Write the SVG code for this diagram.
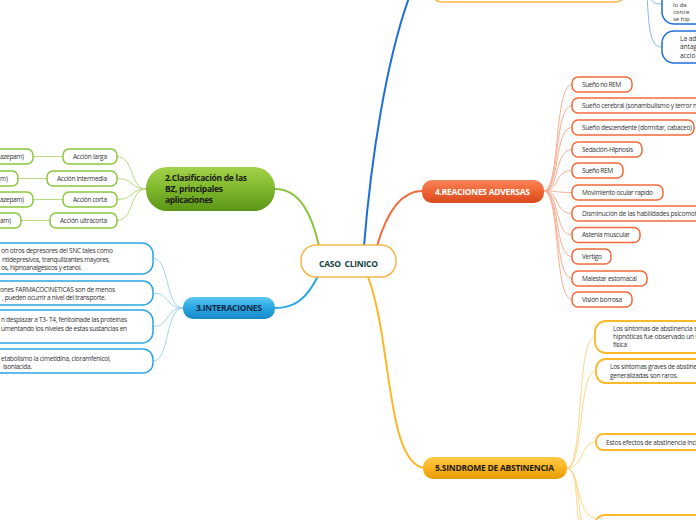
<svg xmlns="http://www.w3.org/2000/svg" width="696" height="520" viewBox="0 0 696 520">
<defs>
<linearGradient id="gGreen" x1="0" y1="0" x2="0" y2="1"><stop offset="0" stop-color="#a3d24a"/><stop offset="0.5" stop-color="#7fb82c"/><stop offset="1" stop-color="#5a9416"/></linearGradient>
<linearGradient id="gBlue" x1="0" y1="0" x2="0" y2="1"><stop offset="0" stop-color="#5cc6f0"/><stop offset="0.5" stop-color="#2aa6e2"/><stop offset="1" stop-color="#1888c8"/></linearGradient>
<linearGradient id="gRed" x1="0" y1="0" x2="0" y2="1"><stop offset="0" stop-color="#f7855a"/><stop offset="0.5" stop-color="#ee6434"/><stop offset="1" stop-color="#d9491f"/></linearGradient>
<linearGradient id="gYel" x1="0" y1="0" x2="0" y2="1"><stop offset="0" stop-color="#fdcb4a"/><stop offset="0.5" stop-color="#f9b420"/><stop offset="1" stop-color="#e49b06"/></linearGradient>
</defs>
<style>
.t{font-family:"Open Sans","Liberation Sans",sans-serif;font-size:6.5px;fill:#333}
.t6{font-family:"Open Sans","Liberation Sans",sans-serif;font-size:6px;fill:#333}
.h{font-family:"Open Sans","Liberation Sans",sans-serif;font-weight:bold;font-size:8.5px}
.cG{fill:#fff;stroke:#8cc63f;stroke-width:1.5}
.cB{fill:#fff;stroke:#2aa6e2;stroke-width:1.5}
.cD{fill:#fff;stroke:#1e6fd9;stroke-width:1.5}
.cR{fill:#fff;stroke:#f26a3a;stroke-width:1.5}
.cY{fill:#fff;stroke:#fbb829;stroke-width:1.8}
.cO{fill:#fff;stroke:#f9b54a;stroke-width:1.5}
.m{fill:none;stroke-width:2}
.s{fill:none;stroke-width:1}
</style>

<g id="connectors">
  <path class="m" stroke="#1e6fd9" d="M364,246 C371,160 386,60 410,-5"/>
  <path class="m" stroke="#8cc63f" d="M319,246 C312,215 300,189 275,189"/>
  <path class="m" stroke="#2aa6e2" d="M318,276 C306,300 294,308 275,308"/>
  <path class="m" stroke="#f26a3a" d="M377,246 C386,215 400,191 422,191"/>
  <path class="m" stroke="#fbb829" d="M368,277 C392,340 386,462 424,468"/>
  <path class="s" stroke="#8ab4ec" d="M647,-5 C649,30 650,47 662,47"/>
  <path class="s" stroke="#8ab4ec" d="M650,-3 C652,3 656,4 662,4"/>
  <g stroke="#f8ae92">
    <path class="s" d="M544,191 C560,191 554,84.5 572,84.5"/>
    <path class="s" d="M544,191 C560,191 554,105.5 572,105.5"/>
    <path class="s" d="M544,191 C560,191 554,127.5 572,127.5"/>
    <path class="s" d="M544,191 C560,191 554,149.5 572,149.5"/>
    <path class="s" d="M544,191 C560,191 554,170.5 572,170.5"/>
    <path class="s" d="M544,191 C560,191 554,192.5 572,192.5"/>
    <path class="s" d="M544,191 C560,191 554,213.5 572,213.5"/>
    <path class="s" d="M544,191 C560,191 554,235 572,235"/>
    <path class="s" d="M544,191 C560,191 554,256.5 572,256.5"/>
    <path class="s" d="M544,191 C560,191 554,278.5 572,278.5"/>
    <path class="s" d="M544,191 C560,191 554,299.5 572,299.5"/>
  </g>
  <g stroke="#b8da80">
    <path class="s" d="M146,189 C130,189 134,156.5 117,156.5"/>
    <path class="s" d="M146,189 C130,189 134,178.5 117,178.5"/>
    <path class="s" d="M146,189 C130,189 134,199.5 117,199.5"/>
    <path class="s" d="M146,189 C130,189 134,220.5 117,220.5"/>
    <path class="s" d="M63,156.5 L33,156.5"/>
    <path class="s" d="M47,178.5 L18,178.5"/>
    <path class="s" d="M63,199.5 L33,199.5"/>
    <path class="s" d="M50,220.5 L21,220.5"/>
  </g>
  <g stroke="#9fd4f2">
    <path class="s" d="M183,308 C165,308 170,258.5 153,258.5"/>
    <path class="s" d="M183,308 C165,308 170,293 153,293"/>
    <path class="s" d="M183,308 C165,308 170,326.5 153,326.5"/>
    <path class="s" d="M183,308 C165,308 170,361 153,361"/>
  </g>
  <g stroke="#fdd68a">
    <path class="s" d="M567,468 C584,468 576,337 595,337"/>
    <path class="s" d="M567,468 C584,468 578,371 596,371"/>
    <path class="s" d="M567,468 C584,468 580,442 596,442"/>
    <path class="s" d="M567,468 C580,470 576,515 595,518"/>
    <path class="s" d="M567,468 C579,470 577,500 582,525"/>
    <path class="s" d="M567,468 C578,470 575,500 579,525"/>
  </g>
</g>

<g id="node-top-orange"><rect class="cO" x="430" y="-30" width="197" height="32" rx="12"/></g>
<g id="node-top-right-1"><rect class="cD" x="662" y="-20" width="100" height="44" rx="12"/>
  <text class="t6" x="673" y="7">lo da</text>
  <text class="t6" x="673" y="14">conce</text>
  <text class="t6" x="673" y="21">se hip</text>
</g>
<g id="node-top-right-2"><rect class="cD" x="662" y="31" width="100" height="32" rx="12"/>
  <text class="t" x="680" y="40.5">La ad</text>
  <text class="t" x="680" y="48.5">antag</text>
  <text class="t" x="680" y="57.5">accio</text>
</g>

<g id="node-center">
  <rect class="cO" x="301" y="245" width="95" height="32" rx="15"/>
  <text class="h" x="348.5" y="267" text-anchor="middle" fill="#173f3f" style="white-space:pre" textLength="59">CASO  CLINICO</text>
</g>

<g id="node-2">
  <rect x="146" y="167" width="129" height="44" rx="21" fill="url(#gGreen)"/>
  <text class="h" x="165" y="181" fill="#1a1a1a" textLength="82">2.Clasificación de las</text>
  <text class="h" x="165" y="192" fill="#1a1a1a" textLength="58">BZ, principales</text>
  <text class="h" x="165" y="203" fill="#1a1a1a" textLength="48">aplicaciones</text>
</g>
<g id="node-2-1"><rect class="cG" x="63" y="149" width="54" height="15" rx="6"/><text class="t" x="107" y="158.8" text-anchor="end" textLength="34">Acción larga</text></g>
<g id="node-2-2"><rect class="cG" x="47" y="171" width="70" height="15" rx="6"/><text class="t" x="107" y="180.8" text-anchor="end" textLength="50">Acción intermedia</text></g>
<g id="node-2-3"><rect class="cG" x="63" y="192" width="54" height="15" rx="6"/><text class="t" x="107" y="201.8" text-anchor="end" textLength="34">Acción corta</text></g>
<g id="node-2-4"><rect class="cG" x="50" y="213" width="67" height="15" rx="6"/><text class="t" x="107" y="222.8" text-anchor="end" textLength="47">Acción ultracorta</text></g>
<g id="node-2-1-1"><rect class="cG" x="-60" y="149" width="93" height="15" rx="6"/><text class="t" x="24" y="158.8" text-anchor="end" textLength="24">azepam)</text></g>
<g id="node-2-2-1"><rect class="cG" x="-60" y="171" width="78" height="15" rx="6"/><text class="t" x="8" y="180.8" text-anchor="end" textLength="8">m)</text></g>
<g id="node-2-3-1"><rect class="cG" x="-60" y="192" width="93" height="15" rx="6"/><text class="t" x="24" y="201.8" text-anchor="end" textLength="24">azepam)</text></g>
<g id="node-2-4-1"><rect class="cG" x="-60" y="213" width="81" height="15" rx="6"/><text class="t" x="11" y="222.8" text-anchor="end" textLength="11">am)</text></g>

<g id="node-3">
  <rect x="183" y="297" width="92" height="22" rx="10" fill="url(#gBlue)"/>
  <text class="h" x="229" y="311" text-anchor="middle" fill="#0e2a48" textLength="66">3.INTERACIONES</text>
</g>
<g id="node-3-1"><rect class="cB" x="-40" y="243" width="193" height="31" rx="11"/>
  <text class="t" x="113" y="253" text-anchor="end" textLength="112">on otros depresores del SNC tales como</text>
  <text class="t" x="110" y="261.6" text-anchor="end" textLength="108">ntidepresivos, tranquilizantes mayores,</text>
  <text class="t" x="82" y="270" text-anchor="end" textLength="81">os, hipnoanalgésicos y etanol.</text>
</g>
<g id="node-3-2"><rect class="cB" x="-40" y="281" width="193" height="24" rx="10"/>
  <text class="t" x="115" y="291.6" text-anchor="end" textLength="115">ones FARMACOCINETICAS son de menos</text>
  <text class="t" x="106" y="300" text-anchor="end" textLength="104">, pueden ocurrir a nivel del transporte.</text>
</g>
<g id="node-3-3"><rect class="cB" x="-40" y="310" width="193" height="33" rx="11"/>
  <text class="t" x="127" y="321.6" text-anchor="end" textLength="126">n desplazar a T3- T4, fenitoinade las proteínas</text>
  <text class="t" x="127" y="330.6" text-anchor="end" textLength="126">umentando los niveles de estas sustancias en</text>
</g>
<g id="node-3-4"><rect class="cB" x="-40" y="349" width="193" height="24" rx="10"/>
  <text class="t" x="111" y="360.6" text-anchor="end" textLength="110">etabolismo la cimetidina, cloramfenicol,</text>
  <text class="t" x="32" y="369" text-anchor="end" textLength="29">isoniacida.</text>
</g>

<g id="node-4">
  <rect x="422" y="180" width="122" height="23" rx="10" fill="url(#gRed)"/>
  <text class="h" x="482.5" y="195" text-anchor="middle" fill="#fff" textLength="95">4.REACIONES ADVERSAS</text>
</g>
<g id="node-4-1"><rect class="cR" x="572" y="77" width="60" height="15" rx="6"/><text class="t" x="582" y="86.8" textLength="39">Sueño no REM</text></g>
<g id="node-4-2"><rect class="cR" x="572" y="98" width="150" height="15" rx="6"/><text class="t" x="582" y="107.8" textLength="115">Sueño cerebral (sonambulismo y terror n</text></g>
<g id="node-4-3"><rect class="cR" x="572" y="120" width="122" height="15" rx="6"/><text class="t" x="582" y="129.8" textLength="110">Sueño descendente (dormitar, cabaceo)</text></g>
<g id="node-4-4"><rect class="cR" x="572" y="142" width="70" height="15" rx="6"/><text class="t" x="582" y="151.8" textLength="51">Sedación-Hipnosis</text></g>
<g id="node-4-5"><rect class="cR" x="572" y="163" width="51" height="15" rx="6"/><text class="t" x="582" y="172.8" textLength="31">Sueño REM</text></g>
<g id="node-4-6"><rect class="cR" x="572" y="185" width="91" height="15" rx="6"/><text class="t" x="582" y="194.8" textLength="71">Movimiento ocular rapido</text></g>
<g id="node-4-7"><rect class="cR" x="572" y="206" width="150" height="15" rx="6"/><text class="t" x="582" y="215.8" textLength="115">Disminución de las habilidades psicomot</text></g>
<g id="node-4-8"><rect class="cR" x="572" y="227.5" width="68" height="15" rx="6"/><text class="t" x="582" y="237.3" textLength="48">Astenia muscular</text></g>
<g id="node-4-9"><rect class="cR" x="572" y="249" width="39" height="15" rx="6"/><text class="t" x="582" y="258.8" textLength="20">Vertigo</text></g>
<g id="node-4-10"><rect class="cR" x="572" y="271" width="75" height="15" rx="6"/><text class="t" x="582" y="280.8" textLength="55">Malestar estomacal</text></g>
<g id="node-4-11"><rect class="cR" x="572" y="292" width="60" height="15" rx="6"/><text class="t" x="582" y="301.8" textLength="40">Visión borrosa</text></g>

<g id="node-5">
  <rect x="423" y="457" width="144" height="22" rx="10" fill="url(#gYel)"/>
  <text class="h" x="494.5" y="471" text-anchor="middle" fill="#1a1a1a" textLength="119">5.SINDROME DE ABSTINENCIA</text>
</g>
<g id="node-5-1"><rect class="cY" x="595" y="321" width="150" height="32" rx="11"/>
  <text class="t" x="613" y="331.3" textLength="84">Los síntomas de abstinencia s</text>
  <text class="t" x="613" y="339.3" textLength="84">hipnóticas fue observado un i</text>
  <text class="t" x="613" y="347.3" textLength="14">física</text>
</g>
<g id="node-5-2"><rect class="cY" x="596" y="359" width="150" height="24" rx="10"/>
  <text class="t" x="610" y="369.3" textLength="87">Los síntomas graves de abstine</text>
  <text class="t" x="610" y="378.3" textLength="68">generalizadas son raros.</text>
</g>
<g id="node-5-3"><rect class="cY" x="596" y="434" width="150" height="16" rx="7"/>
  <text class="t" x="606" y="444.6" textLength="91">Estos efectos de abstinencia incl</text>
</g>
<g id="node-5-4"><rect class="cY" x="595" y="515" width="150" height="30" rx="10"/></g>
</svg>
